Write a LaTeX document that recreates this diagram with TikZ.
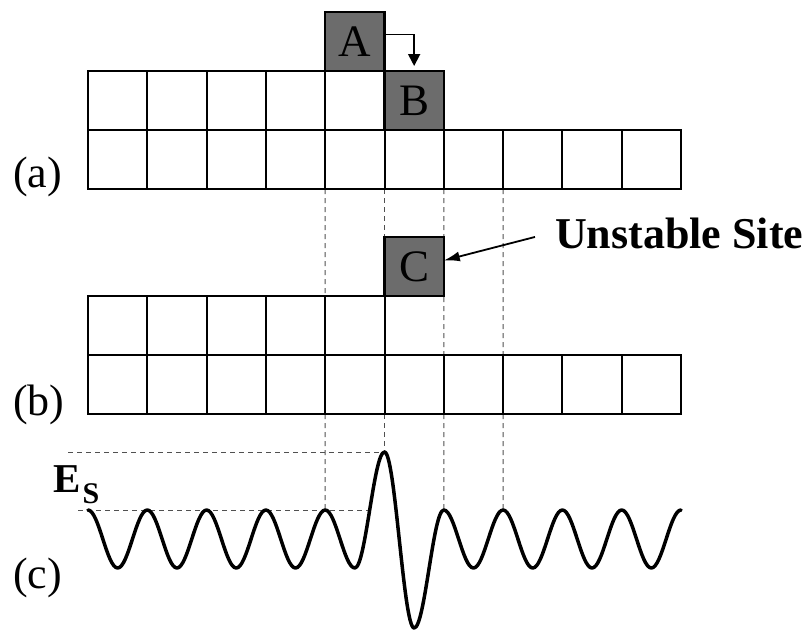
\documentclass[tikz,border=0pt]{standalone}
\usepackage{fontspec}
\setmainfont{Liberation Serif}
\usetikzlibrary{arrows.meta,backgrounds}
\definecolor{boxgray}{RGB}{108,108,108}
\definecolor{dashgray}{RGB}{80,80,80}
\begin{document}
\begin{tikzpicture}[x=1pt,y=-1pt,
  cell/.style={draw,line width=2pt,minimum width=59.3pt,minimum height=59pt,inner sep=0pt,outer sep=0pt},
  atom/.style={cell,fill=boxgray,line width=2.5pt,font=\fontsize{45}{45}\selectfont},
  lbl/.style={inner sep=0pt,anchor=base west,font=\fontsize{44}{44}\selectfont},
  guide/.style={draw=dashgray,line width=1pt,dash pattern=on 5pt off 4pt},
  wave/.style={line width=3.5pt,line cap=round,line join=round},
  link/.style={line width=1.8pt}]
\useasboundingbox (0,0) rectangle (812,630);
% (a)
\foreach \i in {0,...,4} \node[cell] (a1-\i) at ({117.65+59.3*\i},100.5) {};
\foreach \i in {0,...,9} \node[cell] (a2-\i) at ({117.65+59.3*\i},159.5) {};
\node[atom] (A) at (354.85,41.5) {A};
\node[atom] (B) at (414.15,100.5) {B};
% (b)
\foreach \i in {0,...,4} \node[cell] (b1-\i) at ({117.65+59.3*\i},325.5) {};
\foreach \i in {0,...,9} \node[cell] (b2-\i) at ({117.65+59.3*\i},384.5) {};
\node[atom] (C) at (414.15,266.5) {C};
% labels
\node[lbl] (la) at (13,187) {(a)};
\node[lbl] (lb) at (13,415) {(b)};
\node[lbl] (lc) at (13,588) {(c)};
\node[lbl,font=\fontsize{44}{44}\selectfont\bfseries] (usl) at (555,248) {Unstable Site};
\node[inner sep=0pt,anchor=base west] (es) at (53,492)
  {\fontsize{41}{41}\selectfont\bfseries E\hspace{2pt}\raisebox{-11pt}{\fontsize{30}{30}\selectfont S}};
% arrows
\draw[link,-{Triangle[length=12pt,width=12pt]}] ([yshift=7pt]A.east) -| ([yshift=5pt]B.north);
\draw[link,-{Latex[length=16pt,width=10pt]}] ([xshift=-20pt,yshift=-4pt]usl.west) -- ([yshift=6pt]C.east);
% wave
\coordinate (p8) at (325.2,510);
\coordinate (p10) at (384.5,452);
\coordinate (p12) at (443.8,510);
\coordinate (p14) at (503.1,510);
\coordinate (estop) at (68,452);
\coordinate (esbot) at (78,510);
\coordinate (rise) at (369.7,510);
\draw[wave] (88,510) \foreach \k/\py/\y in {1/510/568,2/568/510,3/510/568,4/568/510,5/510/568,6/568/510,7/510/568,8/568/510,9/510/568,10/568/452,11/452/628,12/628/510,13/510/568,14/568/510,15/510/568,16/568/510,17/510/568,18/568/510,19/510/568,20/568/510}
  { cos ({88+29.65*(\k-0.5)},{(\py+\y)/2}) sin ({88+29.65*\k},\y) };
\begin{scope}[on background layer]
\draw[guide] (a2-4.south west) -- (p8);
\draw[guide] (a2-5.south west) -- (p10);
\draw[guide] (a2-6.south west) -- (p12);
\draw[guide] (a2-7.south west) -- (p14);
\draw[guide] (estop) -- (p10);
\draw[guide] (esbot) -- (rise);
\end{scope}
\end{tikzpicture}
\end{document}
